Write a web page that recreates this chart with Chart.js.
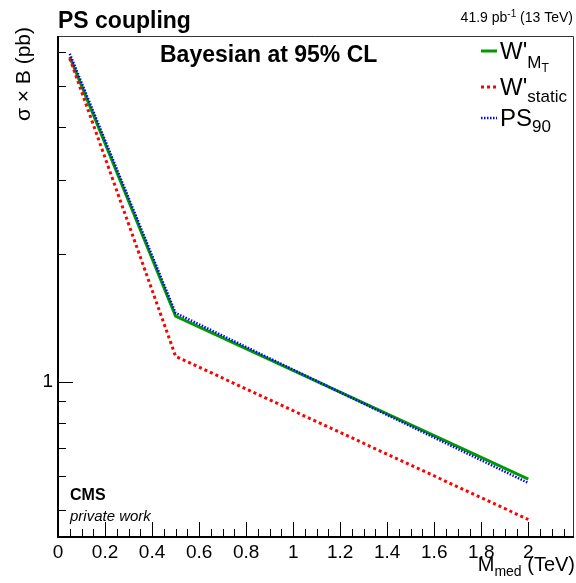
<!DOCTYPE html>
<html>
<head>
<meta charset="utf-8">
<script src="https://cdn.jsdelivr.net/npm/chart.js@4/dist/chart.umd.min.js"></script>
<style>
  html, body { margin: 0; padding: 0; background: #ffffff; }
  #wrap { width: 576px; height: 583px; }
</style>
</head>
<body>
<div id="wrap"><canvas id="c" width="576" height="583"></canvas></div>
<script>
// Mediator mass points (TeV) and the 95% CL upper limits on sigma x B (pb)
const massPoints        = [0.05, 0.5, 2];
const limitWprimeMT     = [5.85, 1.43, 0.59];
const limitWprimeStatic = [5.80, 1.15, 0.474];
const limitPS90         = [5.95, 1.455, 0.578];

// Axis ticks
const xTickValues = [0, 0.2, 0.4, 0.6, 0.8, 1, 1.2, 1.4, 1.6, 1.8, 2];
const yMajorTicks = [1];
const yMinorTicks = [0.5, 0.6, 0.7, 0.8, 0.9, 2, 3, 4, 5, 6];

const FONT = '"Liberation Sans", Arial, Helvetica, sans-serif';

function toXY(xs, ys) {
  return xs.map((x, i) => ({ x: x, y: ys[i] }));
}

// Draws a run of text pieces with individual sizes and baseline shifts
function drawRich(ctx, x, y, parts) {
  let cx = x;
  for (const p of parts) {
    ctx.font = (p.style || '') + ' ' + p.size + 'px ' + FONT;
    ctx.fillText(p.t, cx, y + (p.dy || 0));
    cx += ctx.measureText(p.t).width;
  }
  return cx;
}
function richWidth(ctx, parts) {
  let w = 0;
  for (const p of parts) {
    ctx.font = (p.style || '') + ' ' + p.size + 'px ' + FONT;
    w += ctx.measureText(p.t).width;
  }
  return w;
}

const legendEntries = [
  { dataset: 0, parts: [{ t: "W'", size: 24 }, { t: 'M', size: 17, dy: 9 }, { t: 'T', size: 12, dy: 13 }] },
  { dataset: 1, parts: [{ t: "W'", size: 24 }, { t: 'static', size: 17, dy: 7 }] },
  { dataset: 2, parts: [{ t: 'PS', size: 24 }, { t: '90', size: 17, dy: 6 }] }
];

const decorations = {
  id: 'decorations',
  afterDraw(chart) {
    const ctx = chart.ctx;
    const area = chart.chartArea;
    const xs = chart.scales.x;
    const ys = chart.scales.y;
    ctx.save();
    ctx.fillStyle = '#000';
    ctx.strokeStyle = '#000';

    // Frame: light top/right border, heavier axes
    ctx.lineWidth = 1;
    ctx.strokeStyle = '#333';
    ctx.beginPath();
    ctx.moveTo(area.left, area.top + 0.5);
    ctx.lineTo(area.right + 0.5, area.top + 0.5);
    ctx.lineTo(area.right + 0.5, area.bottom);
    ctx.stroke();
    ctx.strokeStyle = '#000';
    ctx.lineWidth = 2;
    ctx.beginPath();
    ctx.moveTo(area.left, area.top);
    ctx.lineTo(area.left, area.bottom);
    ctx.lineTo(area.right + 1, area.bottom);
    ctx.stroke();

    // X ticks: major every 0.2, minor every 0.05
    ctx.lineWidth = 1;
    ctx.beginPath();
    for (let i = 0; i * 0.05 <= xs.max + 1e-9; i++) {
      const v = i * 0.05;
      const px = Math.round(xs.getPixelForValue(v)) + 0.5;
      const major = xTickValues.some(t => Math.abs(t - v) < 1e-6);
      const len = major ? 15 : 8;
      ctx.moveTo(px, area.bottom);
      ctx.lineTo(px, area.bottom - len);
    }
    ctx.stroke();

    // Y ticks on the log axis
    ctx.beginPath();
    for (const v of yMinorTicks) {
      const py = Math.round(ys.getPixelForValue(v)) + 0.5;
      ctx.moveTo(area.left, py);
      ctx.lineTo(area.left + 8, py);
    }
    for (const v of yMajorTicks) {
      const py = Math.round(ys.getPixelForValue(v)) + 0.5;
      ctx.moveTo(area.left, py);
      ctx.lineTo(area.left + 15, py);
    }
    ctx.stroke();

    // Axis titles
    ctx.textAlign = 'left';
    ctx.textBaseline = 'alphabetic';
    const xTitle = [{ t: 'M', size: 20 }, { t: 'med', size: 14, dy: 5 }, { t: ' (TeV)', size: 20 }];
    drawRich(ctx, 575 - richWidth(ctx, xTitle), 571, xTitle);

    ctx.save();
    ctx.translate(30, 27);
    ctx.rotate(-Math.PI / 2);
    ctx.textAlign = 'right';
    ctx.font = '21px ' + FONT;
    ctx.fillText('\u03C3 \u00D7 B (pb)', 0, 0);
    ctx.restore();

    // Header texts
    ctx.textAlign = 'left';
    ctx.font = 'bold 23px ' + FONT;
    ctx.fillText('PS coupling', 58, 28);
    const lumi = [{ t: '41.9 pb', size: 14 }, { t: '-1', size: 10, dy: -5 }, { t: ' (13 TeV)', size: 14 }];
    drawRich(ctx, 573 - richWidth(ctx, lumi), 22, lumi);
    ctx.font = 'bold 23px ' + FONT;
    ctx.fillText('Bayesian at 95% CL', 160, 62);

    ctx.font = 'bold 16px ' + FONT;
    ctx.fillText('CMS', 70, 500);
    ctx.font = 'italic 15px ' + FONT;
    ctx.fillText('private work', 70, 521);

    // Legend
    const rowBase = [59, 95, 126];
    legendEntries.forEach((e, i) => {
      const ds = chart.data.datasets[e.dataset];
      const yb = rowBase[i];
      ctx.save();
      ctx.strokeStyle = ds.borderColor;
      ctx.lineWidth = ds.borderWidth;
      ctx.setLineDash(ds.borderDash || []);
      ctx.beginPath();
      ctx.moveTo(481, yb - 8);
      ctx.lineTo(497, yb - 8);
      ctx.stroke();
      ctx.restore();
      ctx.fillStyle = '#000';
      drawRich(ctx, 500, yb, e.parts);
    });

    ctx.restore();
  }
};

new Chart(document.getElementById('c'), {
  type: 'scatter',
  data: {
    datasets: [
      {
        label: "W'_MT",
        data: toXY(massPoints, limitWprimeMT),
        showLine: true,
        borderColor: '#009a00',
        borderWidth: 3,
        pointRadius: 0,
        order: 2
      },
      {
        label: "W'_static",
        data: toXY(massPoints, limitWprimeStatic),
        showLine: true,
        borderColor: '#ff0000',
        borderWidth: 3,
        borderDash: [3, 3],
        pointRadius: 0,
        order: 1
      },
      {
        label: 'PS_90',
        data: toXY(massPoints, limitPS90),
        showLine: true,
        borderColor: '#0000ff',
        borderWidth: 2.5,
        borderDash: [1.5, 1.5],
        pointRadius: 0,
        order: 0
      }
    ]
  },
  options: {
    responsive: false,
    animation: false,
    layout: { padding: { top: 36, right: 3, left: 0, bottom: 0 } },
    plugins: { legend: { display: false }, tooltip: { enabled: false } },
    scales: {
      x: {
        type: 'linear',
        min: 0,
        max: 2.19,
        grid: { display: false, drawTicks: false },
        border: { display: false },
        afterFit(scale) { scale.height = 46; },
        afterBuildTicks(scale) { scale.ticks = xTickValues.map(v => ({ value: v })); },
        ticks: {
          autoSkip: false,
          maxRotation: 0,
          padding: 4,
          color: '#000',
          font: { family: FONT, size: 19 },
          callback: v => String(v)
        }
      },
      y: {
        type: 'logarithmic',
        min: 0.431,
        max: 6.55,
        grid: { display: false, drawTicks: false },
        border: { display: false },
        afterFit(scale) { scale.width = 58; },
        afterBuildTicks(scale) {
          scale.ticks = yMinorTicks.concat(yMajorTicks).sort((a, b) => a - b).map(v => ({ value: v }));
        },
        ticks: {
          autoSkip: false,
          padding: 5,
          color: '#000',
          font: { family: FONT, size: 19 },
          callback: v => (yMajorTicks.includes(v) ? String(v) : '')
        }
      }
    }
  },
  plugins: [decorations]
});
</script>
</body>
</html>
